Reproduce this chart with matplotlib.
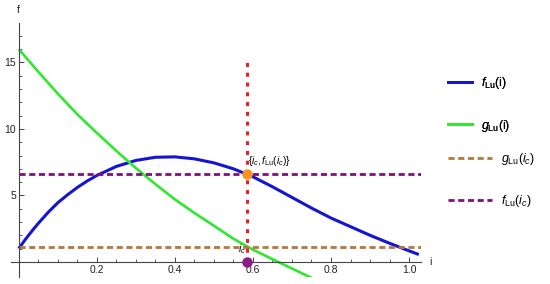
import numpy as np
import matplotlib
matplotlib.use('Agg')
import matplotlib.pyplot as plt
from matplotlib.ticker import MultipleLocator, FixedLocator

plt.rcParams['font.family'] = ['Liberation Sans', 'DejaVu Sans']
plt.rcParams['mathtext.fontset'] = 'custom'
plt.rcParams['mathtext.rm'] = 'Liberation Sans'
plt.rcParams['mathtext.it'] = 'Liberation Sans:italic'

# 读出的数据
i_f = [0, 0.0125, 0.025, 0.0375, 0.05, 0.075, 0.1, 0.125, 0.15, 0.175, 0.2,
       0.25, 0.3, 0.35, 0.4, 0.45, 0.5, 0.55, 0.6, 0.65, 0.7, 0.75, 0.8,
       0.85, 0.9, 0.95, 1.0, 1.025]
f_lu = [1.0, 1.52, 2.0, 2.46, 2.9, 3.72, 4.45, 5.05, 5.6, 6.08, 6.5,
        7.18, 7.63, 7.87, 7.9, 7.75, 7.45, 7.0, 6.4, 5.65, 4.85, 4.05, 3.3,
        2.65, 2.0, 1.4, 0.83, 0.55]

i_g = [0, 0.05, 0.1, 0.15, 0.2, 0.25, 0.3, 0.35, 0.4, 0.45, 0.5, 0.55, 0.6,
       0.65, 0.7, 0.75]
g_lu = [16.0, 14.3, 12.65, 11.1, 9.7, 8.35, 7.05, 5.85, 4.7, 3.68, 2.72,
        1.74, 0.92, 0.2, -0.5, -1.2]

i_c = 0.585
f_ic = 6.6
g_ic = 1.12
red_top = 15

x_range = [0, 1.03]

fig = plt.figure(figsize=(5.5, 2.84), dpi=100)
ax = fig.add_axes([0.02, 0.025, 0.745, 0.894])

ax.plot(i_f, f_lu, color='#1414d2', lw=2.2, solid_capstyle='butt',
        solid_joinstyle='round')
ax.plot(i_g, g_lu, color='#2ee82e', lw=1.9, solid_capstyle='butt',
        solid_joinstyle='round')
ax.plot(x_range, [g_ic, g_ic], color='#b5783c', lw=2, dashes=(2.2, 1.3))
ax.plot(x_range, [f_ic, f_ic], color='#7f0f7f', lw=2, dashes=(2.2, 1.3))
ax.plot([i_c, i_c], [0, red_top], color='#e8202a', lw=2.2, dashes=(1.3, 1.9))

ax.plot([i_c], [f_ic], 'o', color='#f7941d', ms=6.5, zorder=5)
ax.plot([i_c], [0], 'o', color='#8b1a8b', ms=6.5, zorder=5, clip_on=False)

ax.text(i_c + 0.002, 7.6, r'$\{i_c,f_{\rm Lu}(i_c)\}$', fontsize=7.3,
        ha='left', va='center')
ax.text(i_c - 0.004, 0.95, r'$i_c$', fontsize=7.5, ha='right', va='center')

ax.set_xlim(-0.02, 1.03)
ax.set_ylim(-1.13, 17.97)

for s in ['top', 'right']:
    ax.spines[s].set_visible(False)
ax.spines['left'].set_position(('data', 0))
ax.spines['bottom'].set_position(('data', 0))
for s in ['left', 'bottom']:
    ax.spines[s].set_color('#444444')
    ax.spines[s].set_linewidth(0.8)

ax.xaxis.set_major_locator(FixedLocator([0.2, 0.4, 0.6, 0.8, 1.0]))
ax.xaxis.set_minor_locator(MultipleLocator(0.05))
ax.yaxis.set_major_locator(FixedLocator([5, 10, 15]))
ax.yaxis.set_minor_locator(FixedLocator(list(range(0, 18))))
ax.set_xticklabels(['0.2', '0.4', '0.6', '0.8', '1.0'])
ax.tick_params(which='both', direction='in', color='#444444', labelsize=7.5,
               colors='#222222', pad=2)
ax.tick_params(which='major', length=3.5, width=0.7)
ax.tick_params(which='minor', length=2, width=0.6)

ax.text(0, 1.03, 'f', transform=ax.get_xaxis_transform(), ha='center',
        va='bottom', fontsize=7.5, color='#222222')
ax.text(1.02, 0, 'i', transform=ax.get_yaxis_transform(), ha='left',
        va='center', fontsize=7.5, color='#222222')

# 图例
h1, = ax.plot([], [], color='#1414d2', lw=2)
h2, = ax.plot([], [], color='#2ee82e', lw=2)
h3, = ax.plot([], [], color='#b5783c', lw=2, dashes=(2.2, 1.3))
h4, = ax.plot([], [], color='#7f0f7f', lw=2, dashes=(2.2, 1.3))

leg1 = fig.legend([h1, h2], [r'$f_{\rm Lu}$(i)', r'$g_{\rm Lu}$(i)'],
                  loc='upper left', bbox_to_anchor=(0.815, 0.735),
                  frameon=False, fontsize=9, handlelength=1.9,
                  handletextpad=0.75, labelspacing=2.1, borderpad=0,
                  borderaxespad=0)
fig.legend([h3, h4], [r'$g_{\rm Lu}(i_c)$', r'$f_{\rm Lu}(i_c)$'],
           loc='upper left', bbox_to_anchor=(0.815, 0.468),
           frameon=False, fontsize=9, handlelength=3.5,
           handletextpad=0.75, labelspacing=2.1, borderpad=0,
           borderaxespad=0)
fig.add_artist(leg1)

plt.savefig('out.png', dpi=100)
